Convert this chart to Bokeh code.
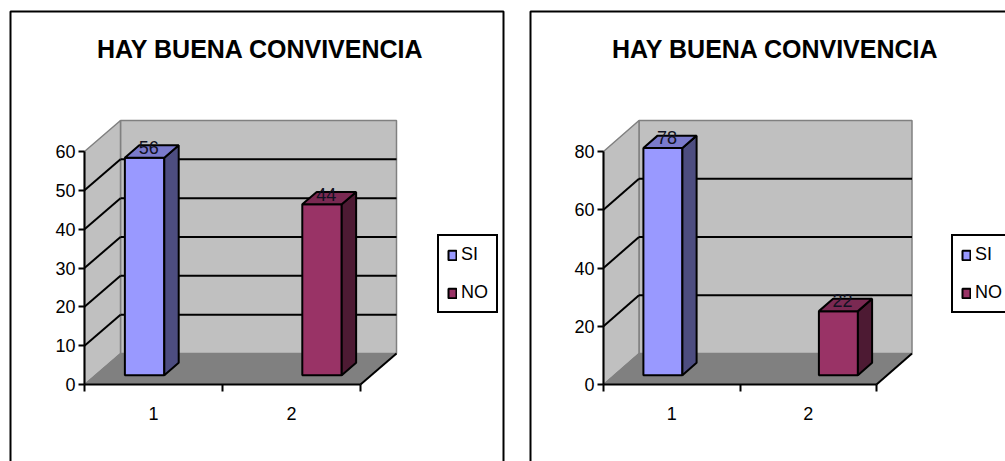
from bokeh.plotting import figure
from bokeh.models import Range1d, FixedTicker, LinearAxis, Legend, LegendItem
from bokeh.layouts import row
from bokeh.embed import file_html
from bokeh.resources import INLINE
from bokeh.core.properties import value

# ---------------- data ----------------
chart_title = "HAY BUENA CONVIVENCIA"
categories = ["1", "2"]
series_names = ["SI", "NO"]
left_si = [56, 0]
left_no = [0, 44]
right_si = [78, 0]
right_no = [0, 22]
left_ticks = [0, 10, 20, 30, 40, 50, 60]
right_ticks = [0, 20, 40, 60, 80]

# ---------------- styles ----------------
front_colors = ["#9999FF", "#993366"]
side_colors = ["#4D4D80", "#4D1A33"]
top_colors = ["#7A7ACC", "#7A2952"]
WALL = "#C0C0C0"
FLOOR = "#808080"
EDGE = "#808080"
FONT = value("Liberation Sans")
H = 461
GAP = 1.5
F1, F2 = 0.3, 0.7
FS = "18px"


def make_panel(width, series_vals, ticks, origin, front_size, depth, border, title_cx, legend_loc):
    ymax = ticks[-1]
    ncat = len(categories)
    nser = len(series_names)
    ppc = front_size[0] / ncat
    ppv = front_size[1] / ymax
    ox, oy = origin
    x0 = -ox / ppc
    x1 = (width - ox) / ppc
    y0 = -(H - oy) / ppv
    y1 = oy / ppv
    p = figure(width=width, height=H, x_range=Range1d(x0, x1), y_range=Range1d(y0, y1),
               output_backend="svg", toolbar_location=None, min_border=0,
               background_fill_color="white", border_fill_color="white",
               outline_line_color=None)
    p.grid.visible = False

    def X(px):
        return x0 + px / ppc

    def Y(py):
        return y1 - py / ppv

    ddx = depth[0] / ppc
    ddy = depth[1] / ppv

    # panel border
    p.quad(left=[X(border[0])], right=[X(border[2])], top=[Y(border[1])], bottom=[Y(border[3])],
           fill_color=None, line_color="black", line_width=2)

    # title
    p.text(x=[X(title_cx)], y=[Y(48)], text=[chart_title], text_font=FONT,
           text_font_style="bold", text_font_size="25px", text_align="center",
           text_baseline="middle", text_color="black")

    # walls and floor
    p.quad(left=[ddx], right=[ncat + ddx], bottom=[ddy], top=[ymax + ddy],
           fill_color=WALL, line_color=EDGE, line_width=1.5)
    p.patch(x=[0, 0, ddx, ddx], y=[0, ymax, ymax + ddy, ddy],
            fill_color=WALL, line_color=EDGE, line_width=1.5)
    p.patch(x=[0, ncat, ncat + ddx, ddx], y=[0, 0, ddy, ddy],
            fill_color=FLOOR, line_color=EDGE, line_width=1)
    p.line(x=[ncat, ncat + ddx], y=[0, ddy], line_color="black", line_width=2)

    # gridlines
    inner = ticks[1:-1]
    p.multi_line(xs=[[ddx, ncat + ddx] for t in inner], ys=[[t + ddy, t + ddy] for t in inner],
                 line_color="black", line_width=2)
    p.multi_line(xs=[[0, ddx] for t in inner], ys=[[t, t + ddy] for t in inner],
                 line_color="black", line_width=2)

    # bars
    w = 1.0 / (nser + GAP)
    legend_items = []
    for s, vals in enumerate(series_vals):
        fl, fr, fb, ft = [], [], [], []
        sx, sy, tx, ty = [], [], [], []
        lx, ly, lt = [], [], []
        for c, v in enumerate(vals):
            if v == 0:
                continue
            L = c + 0.5 - nser * w / 2 + s * w
            R = L + w
            fl.append(L + F1 * ddx)
            fr.append(R + F1 * ddx)
            fb.append(F1 * ddy)
            ft.append(v + F1 * ddy)
            sx.append([R + F1 * ddx, R + F2 * ddx, R + F2 * ddx, R + F1 * ddx])
            sy.append([F1 * ddy, F2 * ddy, v + F2 * ddy, v + F1 * ddy])
            tx.append([L + F1 * ddx, R + F1 * ddx, R + F2 * ddx, L + F2 * ddx])
            ty.append([v + F1 * ddy, v + F1 * ddy, v + F2 * ddy, v + F2 * ddy])
            lx.append((L + R) / 2 + 0.5 * ddx)
            ly.append(v + 0.5 * ddy)
            lt.append(str(v))
        fr_r = p.quad(left=fl, right=fr, bottom=fb, top=ft, fill_color=front_colors[s],
                      line_color="black", line_width=2)
        p.patches(xs=sx, ys=sy, fill_color=side_colors[s], line_color="black", line_width=2)
        p.patches(xs=tx, ys=ty, fill_color=top_colors[s], line_color="black", line_width=2)
        p.text(x=lx, y=ly, text=lt, text_font=FONT, text_font_size=FS, text_align="center",
               text_baseline="alphabetic", text_color="#111122", x_offset=-3, y_offset=-4)
        legend_items.append(LegendItem(label=series_names[s], renderers=[fr_r]))

    # axes
    ya = p.yaxis[0]
    ya.fixed_location = 0
    ya.bounds = (0, ymax)
    ya.ticker = FixedTicker(ticks=ticks)
    ya.minor_tick_line_color = None
    ya.major_tick_in = 0
    ya.major_tick_out = 6
    ya.major_tick_line_width = 2
    ya.axis_line_width = 2
    ya.axis_line_color = "black"
    ya.major_tick_line_color = "black"
    ya.major_label_text_font = "Liberation Sans"
    ya.major_label_text_font_size = FS
    ya.major_label_text_color = "black"
    ya.major_label_standoff = 3

    xa = p.xaxis[0]
    xa.fixed_location = 0
    xa.bounds = (0, ncat)
    xa.ticker = FixedTicker(ticks=list(range(ncat + 1)))
    xa.major_label_overrides = {i: "" for i in range(ncat + 1)}
    xa.minor_tick_line_color = None
    xa.major_tick_in = 0
    xa.major_tick_out = 7
    xa.major_tick_line_width = 2
    xa.axis_line_width = 2
    xa.axis_line_color = "black"
    xa.major_tick_line_color = "black"

    centers = [c + 0.5 for c in range(ncat)]
    ca = LinearAxis(ticker=FixedTicker(ticks=centers),
                    major_label_overrides={centers[i]: categories[i] for i in range(ncat)})
    ca.fixed_location = 0
    ca.axis_line_color = None
    ca.major_tick_line_color = None
    ca.minor_tick_line_color = None
    ca.major_label_text_font = "Liberation Sans"
    ca.major_label_text_font_size = FS
    ca.major_label_text_color = "black"
    ca.major_label_standoff = 16
    p.add_layout(ca, "below")

    legend = Legend(items=legend_items, location=legend_loc, orientation="vertical",
                    border_line_color="black", border_line_width=2, border_line_alpha=1,
                    background_fill_color="white", background_fill_alpha=1,
                    label_text_font="Liberation Sans", label_text_font_size=FS,
                    label_text_color="black", glyph_width=10, glyph_height=12,
                    label_standoff=4, padding=8, spacing=17, margin=0, label_height=20)
    p.add_layout(legend)
    return p


p1 = make_panel(517, [left_si, left_no], left_ticks, origin=(84, 384), front_size=(276, 233),
                depth=(36, 31), border=(10, 11, 503, 480), title_cx=260, legend_loc=(437, 148))
p2 = make_panel(488, [right_si, right_no], right_ticks, origin=(86, 384), front_size=(273, 233),
                depth=(35.5, 31), border=(13, 11, 520, 480), title_cx=258, legend_loc=(434, 148))

layout = row(p1, p2)
open("out.html", "w").write(file_html(layout, INLINE))
